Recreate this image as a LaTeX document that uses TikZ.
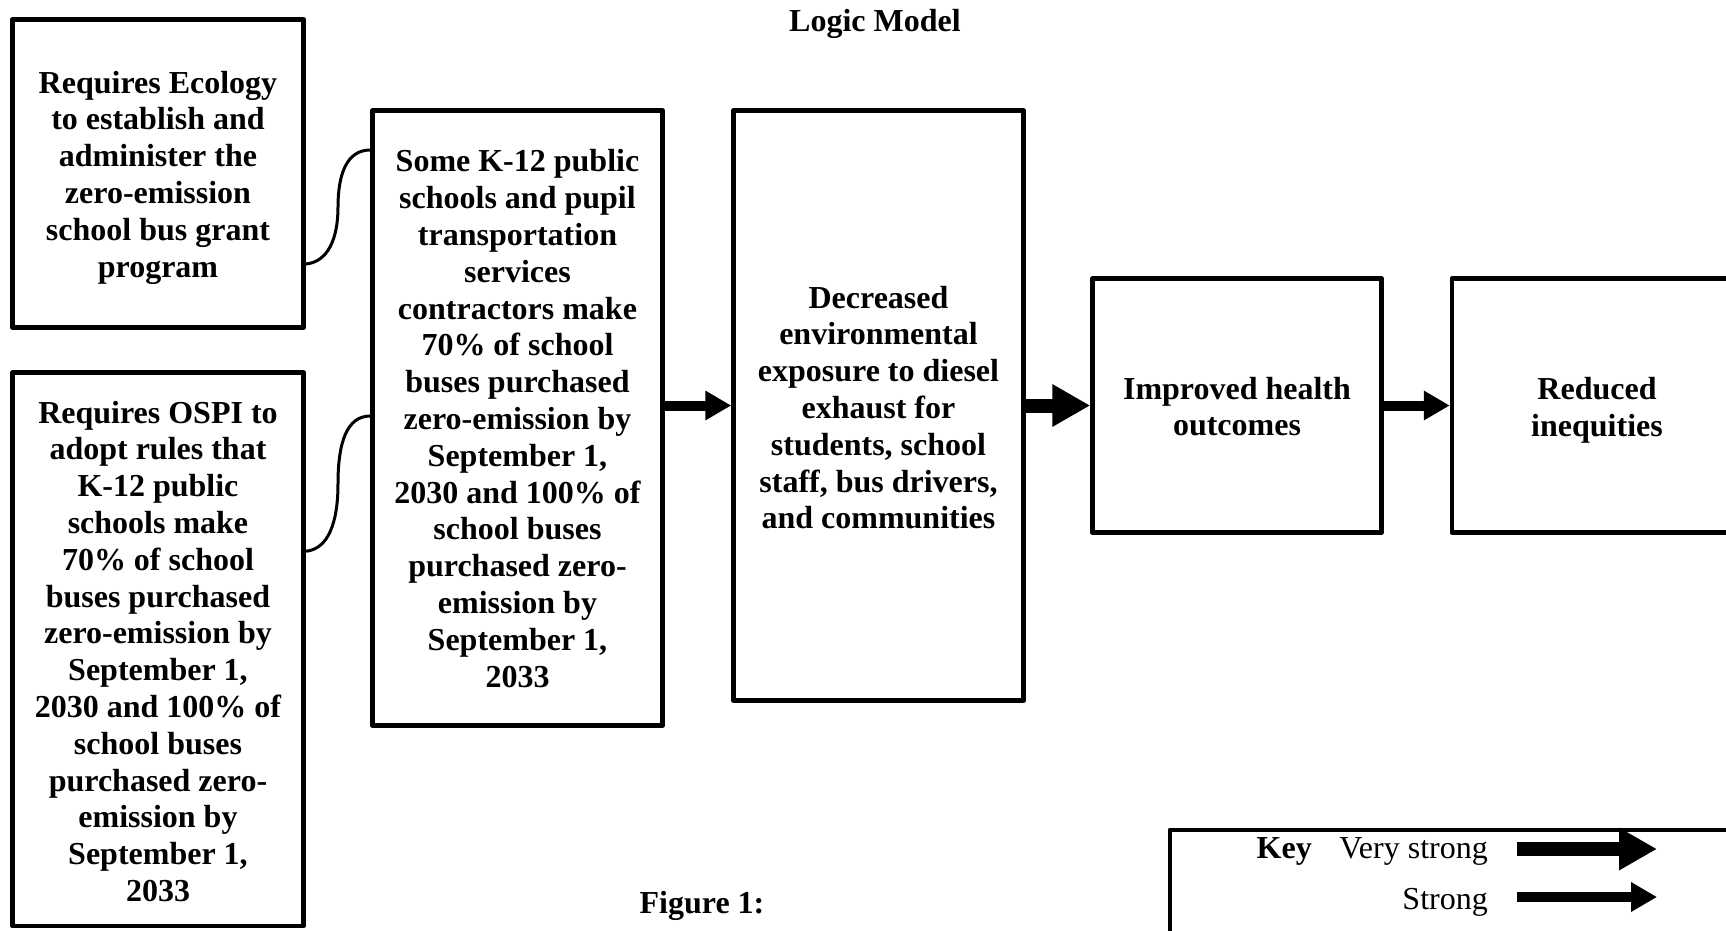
\documentclass[tikz,border=0pt]{standalone}
\usepackage{fontspec}
\setmainfont{Liberation Serif}
\usetikzlibrary{arrows.meta,calc}
\begin{document}
\begin{tikzpicture}[x=1pt,y=-1pt,
  box/.style={draw, line width=4.5pt, line join=round, inner sep=0pt},
  btext/.style={inner sep=0pt, align=center, font=\fontsize{32}{36.8}\selectfont\bfseries},
  txt/.style={inner sep=0pt, font=\fontsize{32}{36.8}\selectfont},
  btxt/.style={inner sep=0pt, font=\fontsize{32}{36.8}\selectfont\bfseries},
  strongarrow/.style={line width=10pt, -{Triangle[length=26pt,width=28pt]}},
  vstrongarrow/.style={line width=14pt, -{Triangle[length=38pt,width=40pt]}},
  link/.style={line width=3pt, line cap=round}]
\useasboundingbox (0,0) rectangle (1726,930);
\clip (0,0) rectangle (1726,930);

\node[btxt] (title) at (875,24) {Logic Model};

\node[box, minimum width=291pt, minimum height=308pt] (A) at (158,173.5) {};
\node[btext] (At) at ([yshift=-4pt]A.center)
  {Requires Ecology\\to establish and\\administer the\\zero-emission\\school bus grant\\program};
\node[box, minimum width=291pt, minimum height=553.5pt] (B) at (158,649.25) {};
\node[btext] (Bt) at ([yshift=-2pt]B.center)
  {Requires OSPI to\\adopt rules that\\K-12 public\\schools make\\70\% of school\\buses purchased\\zero-emission by\\September 1,\\2030 and 100\% of\\school buses\\purchased zero-\\emission by\\September 1,\\2033};
\node[box, minimum width=290pt, minimum height=615pt] (C) at (517.5,418) {};
\node[btext] (Ct) at ([yshift=-0.5pt]C.center)
  {Some K-12 public\\schools and pupil\\transportation\\services\\contractors make\\70\% of school\\buses purchased\\zero-emission by\\September 1,\\2030 and 100\% of\\school buses\\purchased zero-\\emission by\\September 1,\\2033};
\node[box, minimum width=290pt, minimum height=590pt] (D) at (878.5,405.5) {};
\node[btext] (Dt) at ([yshift=-2pt]D.center)
  {Decreased\\environmental\\exposure to diesel\\exhaust for\\students, school\\staff, bus drivers,\\and communities};
\node[box, minimum width=289pt, minimum height=254pt] (E) at (1237,405.5) {};
\node[btext] (Et) at ([yshift=-1pt]E.center) {Improved health\\outcomes};
\node[box, minimum width=290pt, minimum height=254pt] (F) at (1597,405.5) {};
\node[btext] (Ft) at ([yshift=-5pt]F.center) {Reduced\\inequities};

% connectors from inputs
\coordinate (a1) at ([yshift=-90.5pt]A.east);
\coordinate (c1) at ([yshift=268pt]C.west);
\coordinate (b1) at ([yshift=98pt]B.east);
\coordinate (c2) at ([yshift=2pt]C.west);
\coordinate (m1) at ($(a1)!.5!(c1)$);
\coordinate (m2) at ($(b1)!.5!(c2)$);
\draw[link] (a1) .. controls +(22,-2) and +(0,32) .. (m1) .. controls +(0,-32) and +(-24,0) .. (c1);
\draw[link] (b1) .. controls +(22,-2) and +(0,40) .. (m2) .. controls +(0,-40) and +(-24,0) .. (c2);

\draw[strongarrow] (C.east |- D.west) -- (D.west);
\draw[vstrongarrow] (D.east) -- (E.west);
\draw[strongarrow] (E.east) -- (F.west);

% key
\node[box, anchor=north west, minimum width=700pt, minimum height=200pt] (key) at (1167.5,827.5) {};
\node[btxt, anchor=east] (keylbl) at (1312,851) {Key};
\node[txt, anchor=east] (keyvs) at (1488,851) {Very strong};
\node[txt, anchor=east] (keys) at (1488,902) {Strong};
\coordinate (kv1) at (1517,849);
\coordinate (kv2) at (1657,849);
\coordinate (ks1) at (1517,897);
\coordinate (ks2) at (1657,897);
\draw[vstrongarrow] (kv1) -- (kv2);
\draw[strongarrow] (ks1) -- (ks2);

\node[btxt] (fig) at (702,906) {Figure 1:};
\end{tikzpicture}
\end{document}
